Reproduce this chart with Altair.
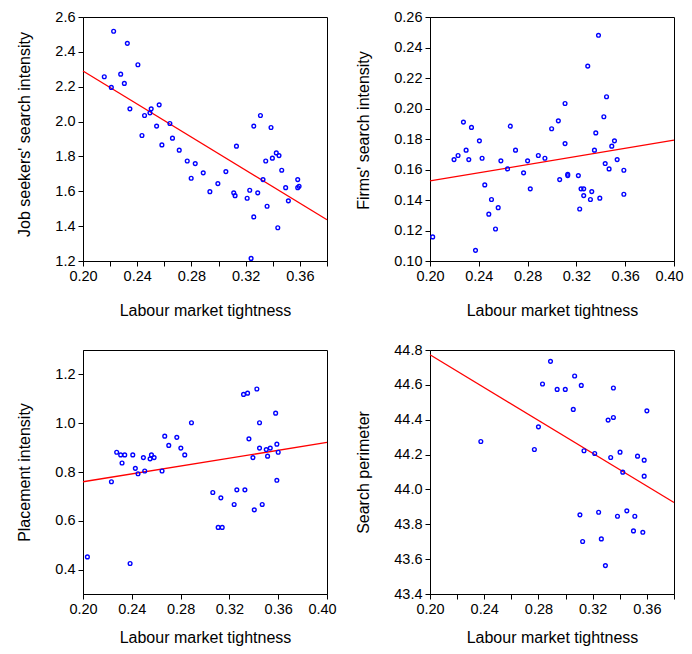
import altair as alt
import pandas as pd

# ---------------- data ----------------
# Panel 1: Job seekers' search intensity vs labour market tightness
x1 = [0.2226, 0.2327, 0.2405, 0.2157, 0.2278, 0.2305, 0.2209, 0.2346, 0.2454, 0.2503,
      0.2494, 0.2562, 0.2435, 0.2543, 0.2641, 0.2582, 0.2660, 0.2710, 0.2769, 0.2828,
      0.2798, 0.2887, 0.2936, 0.2995, 0.3054, 0.3132, 0.3112, 0.3122, 0.3211, 0.3230,
      0.3260, 0.3309, 0.3289, 0.3260, 0.3328, 0.3348, 0.3358, 0.3387, 0.3397, 0.3426,
      0.3446, 0.3466, 0.3437, 0.3495, 0.3515, 0.3584, 0.3584, 0.3594, 0.3240]
y1 = [2.518, 2.449, 2.326, 2.257, 2.272, 2.219, 2.196, 2.073, 2.035, 2.073,
      2.050, 2.096, 1.920, 1.974, 1.989, 1.866, 1.905, 1.836, 1.774, 1.759,
      1.675, 1.706, 1.598, 1.644, 1.713, 1.859, 1.591, 1.575, 1.560, 1.606,
      1.974, 2.035, 1.591, 1.453, 1.667, 1.774, 1.514, 1.966, 1.790, 1.820,
      1.805, 1.721, 1.391, 1.621, 1.545, 1.667, 1.621, 1.629, 1.215]
fit1_x = [0.20, 0.38]
fit1_y = [2.290, 1.437]

# Panel 2: Firms' search intensity
x2 = [0.2022, 0.2373, 0.2274, 0.2340, 0.2197, 0.2230, 0.2296, 0.2318, 0.2405, 0.2427,
      0.2449, 0.2504, 0.2482, 0.2559, 0.2537, 0.2581, 0.2636, 0.2658, 0.2701, 0.2767,
      0.2800, 0.2822, 0.2888, 0.2942, 0.2997, 0.3052, 0.3063, 0.3107, 0.3107, 0.3129,
      0.3129, 0.3216, 0.3227, 0.3238, 0.3260, 0.3260, 0.3293, 0.3315, 0.3326, 0.3348,
      0.3359, 0.3381, 0.3392, 0.3425, 0.3436, 0.3447, 0.3468, 0.3490, 0.3512, 0.3534,
      0.3589, 0.3589]
y2 = [0.1158, 0.1070, 0.1911, 0.1876, 0.1665, 0.1692, 0.1727, 0.1665, 0.1788, 0.1674,
      0.1499, 0.1403, 0.1307, 0.1350, 0.1210, 0.1657, 0.1604, 0.1884, 0.1727, 0.1578,
      0.1657, 0.1473, 0.1692, 0.1674, 0.1867, 0.1919, 0.1534, 0.2033, 0.1770, 0.1569,
      0.1560, 0.1560, 0.1341, 0.1473, 0.1473, 0.1429, 0.2278, 0.1403, 0.1455, 0.1727,
      0.1840, 0.2480, 0.1412, 0.1946, 0.1639, 0.2077, 0.1604, 0.1753, 0.1788, 0.1665,
      0.1595, 0.1438]
fit2_x = [0.20, 0.40]
fit2_y = [0.1525, 0.1792]

# Panel 3: Placement intensity
x3 = [0.2036, 0.2386, 0.2233, 0.2276, 0.2309, 0.2342, 0.2320, 0.2408, 0.2429, 0.2451,
      0.2495, 0.2506, 0.2550, 0.2561, 0.2583, 0.2648, 0.2670, 0.2703, 0.2769, 0.2802,
      0.2834, 0.2889, 0.3064, 0.3108, 0.3141, 0.3130, 0.3239, 0.3261, 0.3316, 0.3349,
      0.3327, 0.3360, 0.3393, 0.3404, 0.3425, 0.3447, 0.3447, 0.3469, 0.3502, 0.3513,
      0.3535, 0.3579, 0.3589, 0.3589, 0.3600]
y3 = [0.452, 0.425, 0.760, 0.881, 0.870, 0.870, 0.837, 0.870, 0.815, 0.793,
      0.859, 0.804, 0.854, 0.870, 0.859, 0.804, 0.947, 0.909, 0.942, 0.898,
      0.870, 1.002, 0.716, 0.573, 0.573, 0.694, 0.667, 0.727, 1.118, 1.123,
      0.727, 0.936, 0.859, 0.645, 1.140, 1.002, 0.898, 0.667, 0.892, 0.865,
      0.898, 1.041, 0.914, 0.766, 0.881]
fit3_x = [0.20, 0.40]
fit3_y = [0.760, 0.921]

# Panel 4: Search perimeter
x4 = [0.2375, 0.2770, 0.2800, 0.2830, 0.2889, 0.2938, 0.2998, 0.3057, 0.3067, 0.3116,
      0.3106, 0.3126, 0.3136, 0.3215, 0.3244, 0.3264, 0.3294, 0.3314, 0.3333, 0.3353,
      0.3353, 0.3383, 0.3402, 0.3422, 0.3452, 0.3501, 0.3511, 0.3531, 0.3570, 0.3580,
      0.3580, 0.3600]
y4 = [44.275, 44.229, 44.359, 44.605, 44.735, 44.574, 44.574, 44.459, 44.651, 44.597,
      43.854, 43.701, 44.222, 44.206, 43.869, 43.716, 43.563, 44.398, 44.183, 44.413,
      44.582, 43.846, 44.214, 44.099, 43.877, 43.762, 43.846, 44.191, 43.754, 44.168,
      44.076, 44.451]
fit4_x = [0.20, 0.38]
fit4_y = [44.773, 43.925]

x_title = "Labour market tightness"
y_titles = ["Job seekers' search intensity", "Firms' search intensity",
            "Placement intensity", "Search perimeter"]

x_ticks_038 = [0.20, 0.22, 0.24, 0.26, 0.28, 0.30, 0.32, 0.34, 0.36, 0.38]
x_ticks_040 = [0.20, 0.24, 0.28, 0.32, 0.36, 0.40]
y_ticks1 = [1.2, 1.4, 1.6, 1.8, 2.0, 2.2, 2.4, 2.6]
y_ticks2 = [0.10, 0.12, 0.14, 0.16, 0.18, 0.20, 0.22, 0.24, 0.26]
y_ticks3 = [0.4, 0.6, 0.8, 1.0, 1.2]
y_ticks4 = [43.4, 43.6, 43.8, 44.0, 44.2, 44.4, 44.6, 44.8]

W = 244
H = 244
FONT = "Liberation Sans"


def panel(xs, ys, fx, fy, xdom, xticks, ydom, yticks, yfmt, ytitle, xtp, title_y=None):
    pts = pd.DataFrame({"x": xs, "y": ys})
    fit = pd.DataFrame({"x": fx, "y": fy})
    xscale = alt.Scale(domain=xdom, nice=False, zero=False)
    yscale = alt.Scale(domain=ydom, nice=False, zero=False)
    xaxis = alt.Axis(
        values=xticks, tickCount=len(xticks), title=x_title, labelOverlap=False,
        titlePadding=xtp,
        labelExpr="round(datum.value*100) % 4 == 0 ? format(datum.value, '.2f') : ''",
        labelOffset={"condition": {"test": "datum.value > 0.39", "value": -5}, "value": 0},
    )
    yargs = dict(values=yticks, tickCount=len(yticks), format=yfmt, title=ytitle,
                 labelOverlap=False)
    if title_y is not None:
        yargs["titleY"] = title_y
    yaxis = alt.Axis(**yargs)
    line = alt.Chart(fit).mark_line(color="#ff0000", strokeWidth=1.3).encode(
        x=alt.X("x:Q", scale=xscale, axis=xaxis),
        y=alt.Y("y:Q", scale=yscale, axis=yaxis),
    )
    points = alt.Chart(pts).mark_point(
        shape="circle", filled=False, color="#0000ff", size=14, strokeWidth=1.4, opacity=1
    ).encode(
        x=alt.X("x:Q", scale=xscale, axis=xaxis),
        y=alt.Y("y:Q", scale=yscale, axis=yaxis),
    )
    return alt.layer(line, points).properties(width=W, height=H)


p1 = panel(x1, y1, fit1_x, fit1_y, [0.20, 0.38], x_ticks_038, [1.2, 2.6], y_ticks1, ".1f",
           y_titles[0], 20, title_y=117)
p2 = panel(x2, y2, fit2_x, fit2_y, [0.20, 0.40], x_ticks_040, [0.10, 0.26], y_ticks2, ".2f",
           y_titles[1], 20, title_y=113)
p3 = panel(x3, y3, fit3_x, fit3_y, [0.20, 0.40], x_ticks_040, [0.3, 1.3], y_ticks3, ".1f",
           y_titles[2], 14)
p4 = panel(x4, y4, fit4_x, fit4_y, [0.20, 0.38], x_ticks_038, [43.4, 44.8], y_ticks4, ".1f",
           y_titles[3], 14)

chart = alt.concat(p1, p2, p3, p4, columns=2, spacing={"row": 22, "column": 18}).properties(
    padding={"left": 8, "top": 0, "right": 0, "bottom": 0}
).configure_view(
    stroke="#000000", strokeWidth=1
).configure_axis(
    grid=False,
    domainColor="#000000",
    tickColor="#000000",
    tickSize=5,
    labelColor="#000000",
    titleColor="#000000",
    labelFont=FONT,
    titleFont=FONT,
    labelFontSize=14.5,
    titleFontSize=16,
    titleFontWeight="normal",
    labelPadding=3,
    labelBound=False,
).configure_axisY(
    labelFlush=False,
    titlePadding=22,
).configure_axisX(
    labelFlush=False,
)

chart.save("out.html", embed_options={"renderer": "svg", "actions": False})
